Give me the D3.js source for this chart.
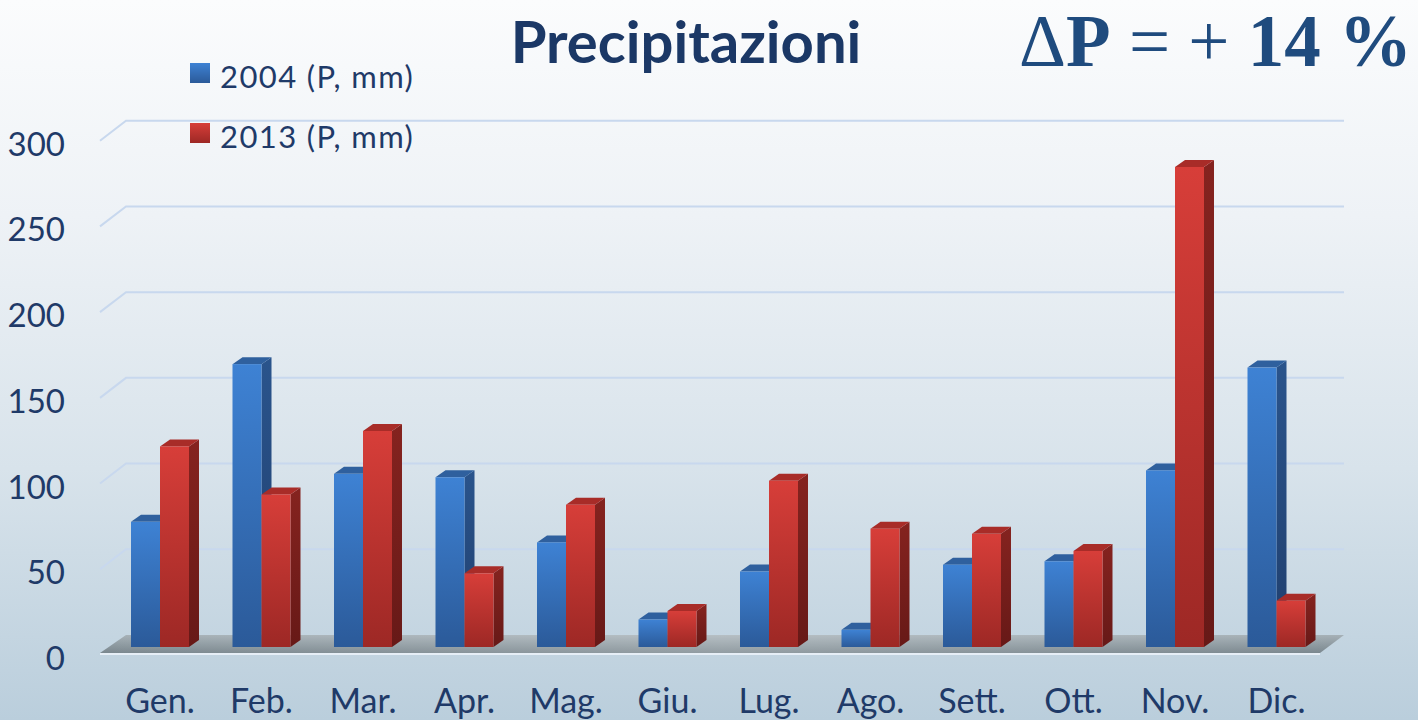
<!DOCTYPE html>
<html>
<head>
<meta charset="utf-8">
<script src="https://cdn.jsdelivr.net/npm/d3@7"></script>
<style>
  html, body { margin: 0; padding: 0; overflow: hidden; background: #fff; }
  svg { display: block; }
</style>
</head>
<body>
<svg id="chart" width="1418" height="720"></svg>
<script>
// Monthly precipitation (mm), 2004 vs 2013
const months = ["Gen.", "Feb.", "Mar.", "Apr.", "Mag.", "Giu.", "Lug.", "Ago.", "Sett.", "Ott.", "Nov.", "Dic."];
const seriesNames = ["2004 (P, mm)", "2013 (P, mm)"];
const p2004 = [73, 165, 101, 99, 61, 16, 44, 10, 48, 50, 103, 163];
const p2013 = [117, 89, 126, 43, 83, 21, 97, 69, 66, 56, 280, 27];
const yTicks = [0, 50, 100, 150, 200, 250, 300];
const titleText = "Precipitazioni";

const W = 1418, H = 720;
const svg = d3.select("#chart");
const defs = svg.append("defs");

// 3D look: bar depth offsets and back wall offset
const depthX = 10, depthY = -7;          // bar side/top depth
const wallDY = -12;                      // bar front plane -> back wall

function linGrad(id, stops, vertical = true) {
  const g = defs.append("linearGradient").attr("id", id)
    .attr("x1", 0).attr("y1", 0)
    .attr("x2", vertical ? 0 : 1).attr("y2", vertical ? 1 : 0);
  stops.forEach(([o, c]) => g.append("stop").attr("offset", o).attr("stop-color", c));
}
linGrad("bg", [[0, "#fbfcfd"], [0.3, "#eef2f6"], [0.65, "#d8e3eb"], [1, "#bacedc"]]);
linGrad("blueFront", [[0, "#3e82d4"], [1, "#2b5a99"]]);
linGrad("blueSide", [[0, "#2a548c"], [1, "#203f6e"]]);
linGrad("redFront", [[0, "#d73e39"], [1, "#9d2825"]]);
linGrad("redSide", [[0, "#85231f"], [1, "#671917"]]);
linGrad("floor", [[0, "#a6b1b7"], [1, "#7a878e"]]);
linGrad("floorH", [[0, "rgba(255,255,255,0)"], [0.5, "rgba(255,255,255,0.18)"], [1, "rgba(255,255,255,0)"]], false);

svg.append("rect").attr("width", W).attr("height", H).attr("fill", "url(#bg)");

// Scales (front plane of the bars)
const x = d3.scaleBand().domain(months).range([109.25, 1327.25])
  .paddingInner(0.4286).paddingOuter(0.2143);
const xs = d3.scaleBand().domain(seriesNames).range([0, x.bandwidth()]);
const y = d3.scaleLinear().domain([0, 300]).range([647, 132.7]);

const textColor = "#1f3a68";
const sans = "Lato, 'Open Sans', sans-serif";

// Gridlines on the back wall with the short slanted segment on the left
const grid = svg.append("g");
const wallLeft = 126, wallRight = 1344;
yTicks.filter(v => v > 0).forEach(v => {
  const yb = y(v) + wallDY;
  grid.append("path")
    .attr("d", `M${wallLeft - 26},${yb + 20}L${wallLeft},${yb}L${wallRight},${yb}`)
    .attr("fill", "none").attr("stroke", "#c8d8ee").attr("stroke-width", 2);
});

// Floor
const y0b = y(0) + wallDY, y0f = y(0) + 6;
const floorPath = `M${wallLeft - 26},${y0f}L${1320},${y0f}L${wallRight},${y0b}L${wallLeft},${y0b}Z`;
svg.append("path").attr("d", floorPath).attr("fill", "url(#floor)");
svg.append("path").attr("d", floorPath).attr("fill", "url(#floorH)");
svg.append("line")
  .attr("x1", wallLeft - 26).attr("x2", 1320).attr("y1", y0f + 1).attr("y2", y0f + 1)
  .attr("stroke", "#e6eef6").attr("stroke-width", 2);

// Y axis labels
svg.append("g").selectAll("text").data(yTicks).join("text")
  .attr("x", 65).attr("y", d => y(d) + 10)
  .attr("text-anchor", "end").attr("dominant-baseline", "central")
  .attr("font-family", sans).attr("font-size", 33)
  .attr("fill", textColor).text(d => d);

// Bars
const rows = months.map((m, i) => ({ m, vals: [p2004[i], p2013[i]] }));
const styles = [
  { front: "url(#blueFront)", side: "url(#blueSide)", top: "#2f609e" },
  { front: "url(#redFront)", side: "url(#redSide)", top: "#a82c28" }
];
const bars = svg.append("g");
rows.forEach(r => {
  r.vals.forEach((v, si) => {
    const x0 = x(r.m) + xs(seriesNames[si]);
    const w = xs.bandwidth();
    const yt = y(v), yb = y(0);
    const st = styles[si];
    const g = bars.append("g");
    g.append("path")
      .attr("d", `M${x0 + w},${yt}L${x0 + w + depthX},${yt + depthY}L${x0 + w + depthX},${yb + depthY}L${x0 + w},${yb}Z`)
      .attr("fill", st.side);
    g.append("path")
      .attr("d", `M${x0},${yt}L${x0 + depthX},${yt + depthY}L${x0 + w + depthX},${yt + depthY}L${x0 + w},${yt}Z`)
      .attr("fill", st.top);
    g.append("rect").attr("x", x0).attr("y", yt).attr("width", w).attr("height", yb - yt)
      .attr("fill", st.front);
  });
});

// X axis labels
svg.append("g").selectAll("text").data(months).join("text")
  .attr("x", d => x(d) + x.bandwidth() / 2).attr("y", 713)
  .attr("text-anchor", "middle")
  .attr("font-family", sans).attr("font-size", 34)
  .attr("fill", textColor).text(d => d);

// Legend
const legend = svg.append("g");
const legendFills = ["url(#blueFront)", "url(#redFront)"];
seriesNames.forEach((name, i) => {
  const ly = 63 + i * 60;
  legend.append("rect").attr("x", 190).attr("y", ly).attr("width", 20).attr("height", 20)
    .attr("fill", legendFills[i]);
  legend.append("text").attr("x", 220).attr("y", ly + 25)
    .attr("font-family", sans).attr("font-size", 31).attr("letter-spacing", 1.4)
    .attr("fill", textColor).text(name);
});

// Title
svg.append("text").attr("x", 686).attr("y", 63).attr("text-anchor", "middle")
  .attr("font-family", sans).attr("font-weight", 700)
  .attr("font-size", 58).attr("fill", "#1b3866").text(titleText);

// Change annotation
const delta = svg.append("text").attr("x", 1412).attr("y", 66).attr("text-anchor", "end")
  .attr("font-family", "'Liberation Serif', 'Times New Roman', serif")
  .attr("font-size", 73).attr("fill", "#1f4b7e");
delta.append("tspan").text("Δ");
delta.append("tspan").attr("font-weight", 700).text("P");
delta.append("tspan").text(" = + ");
delta.append("tspan").attr("font-weight", 700).text("14 %");
</script>
</body>
</html>
